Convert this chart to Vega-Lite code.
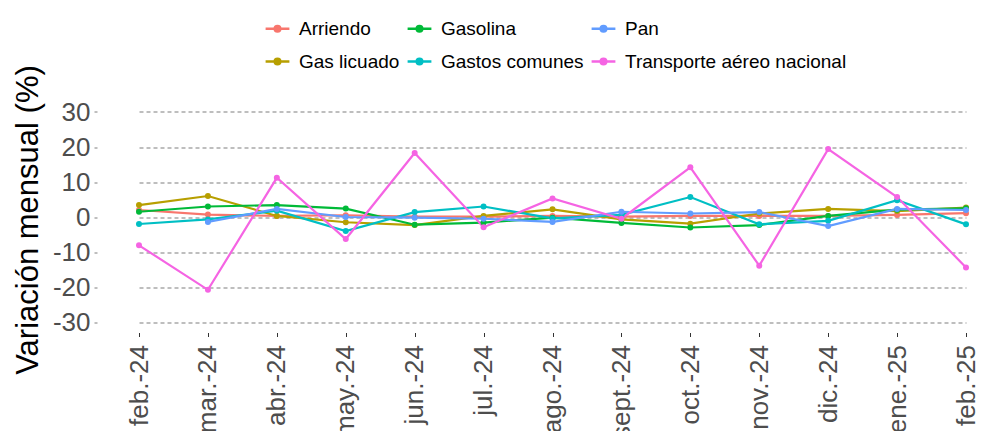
{
  "$schema": "https://vega.github.io/schema/vega-lite/v6.json",
  "autosize": {"type": "none"},
  "padding": {"left": 97, "top": 101.5, "right": 2, "bottom": 98.5},
  "width": 900,
  "height": 231,
  "background": "white",
  "config": {
    "view": {"stroke": null},
    "font": "Liberation Sans"
  },
  "data": {
    "values": [
      {"mes": "feb.-24", "serie": "Arriendo", "valor": 2.0},
      {"mes": "mar.-24", "serie": "Arriendo", "valor": 0.7},
      {"mes": "abr.-24", "serie": "Arriendo", "valor": 0.3},
      {"mes": "may.-24", "serie": "Arriendo", "valor": 0.5},
      {"mes": "jun.-24", "serie": "Arriendo", "valor": 0.1},
      {"mes": "jul.-24", "serie": "Arriendo", "valor": 0.1},
      {"mes": "ago.-24", "serie": "Arriendo", "valor": 0.3},
      {"mes": "sept.-24", "serie": "Arriendo", "valor": 0.1},
      {"mes": "oct.-24", "serie": "Arriendo", "valor": 0.3},
      {"mes": "nov.-24", "serie": "Arriendo", "valor": 0.3},
      {"mes": "dic.-24", "serie": "Arriendo", "valor": 0.3},
      {"mes": "ene.-25", "serie": "Arriendo", "valor": 0.6},
      {"mes": "feb.-25", "serie": "Arriendo", "valor": 1.1},
      {"mes": "feb.-24", "serie": "Gas licuado", "valor": 3.4},
      {"mes": "mar.-24", "serie": "Gas licuado", "valor": 6.0},
      {"mes": "abr.-24", "serie": "Gas licuado", "valor": 0.3},
      {"mes": "may.-24", "serie": "Gas licuado", "valor": -1.5},
      {"mes": "jun.-24", "serie": "Gas licuado", "valor": -2.3},
      {"mes": "jul.-24", "serie": "Gas licuado", "valor": 0.3},
      {"mes": "ago.-24", "serie": "Gas licuado", "valor": 2.2},
      {"mes": "sept.-24", "serie": "Gas licuado", "valor": -0.7},
      {"mes": "oct.-24", "serie": "Gas licuado", "valor": -1.9},
      {"mes": "nov.-24", "serie": "Gas licuado", "valor": 1.0},
      {"mes": "dic.-24", "serie": "Gas licuado", "valor": 2.3},
      {"mes": "ene.-25", "serie": "Gas licuado", "valor": 1.7},
      {"mes": "feb.-25", "serie": "Gas licuado", "valor": 2.7},
      {"mes": "feb.-24", "serie": "Gasolina", "valor": 1.5},
      {"mes": "mar.-24", "serie": "Gasolina", "valor": 3.0},
      {"mes": "abr.-24", "serie": "Gasolina", "valor": 3.4},
      {"mes": "may.-24", "serie": "Gasolina", "valor": 2.4},
      {"mes": "jun.-24", "serie": "Gasolina", "valor": -2.2},
      {"mes": "jul.-24", "serie": "Gasolina", "valor": -1.6},
      {"mes": "ago.-24", "serie": "Gasolina", "valor": -0.2},
      {"mes": "sept.-24", "serie": "Gasolina", "valor": -1.7},
      {"mes": "oct.-24", "serie": "Gasolina", "valor": -3.0},
      {"mes": "nov.-24", "serie": "Gasolina", "valor": -2.3},
      {"mes": "dic.-24", "serie": "Gasolina", "valor": 0.3},
      {"mes": "ene.-25", "serie": "Gasolina", "valor": 2.1},
      {"mes": "feb.-25", "serie": "Gasolina", "valor": 2.5},
      {"mes": "feb.-24", "serie": "Gastos comunes", "valor": -2.0},
      {"mes": "mar.-24", "serie": "Gastos comunes", "valor": -0.7},
      {"mes": "abr.-24", "serie": "Gastos comunes", "valor": 1.8},
      {"mes": "may.-24", "serie": "Gastos comunes", "valor": -4.0},
      {"mes": "jun.-24", "serie": "Gastos comunes", "valor": 1.4},
      {"mes": "jul.-24", "serie": "Gastos comunes", "valor": 3.0},
      {"mes": "ago.-24", "serie": "Gastos comunes", "valor": -0.4},
      {"mes": "sept.-24", "serie": "Gastos comunes", "valor": 0.6},
      {"mes": "oct.-24", "serie": "Gastos comunes", "valor": 5.7},
      {"mes": "nov.-24", "serie": "Gastos comunes", "valor": -2.1},
      {"mes": "dic.-24", "serie": "Gastos comunes", "valor": -1.1},
      {"mes": "ene.-25", "serie": "Gastos comunes", "valor": 4.8},
      {"mes": "feb.-25", "serie": "Gastos comunes", "valor": -2.1},
      {"mes": "mar.-24", "serie": "Pan", "valor": -1.4},
      {"mes": "abr.-24", "serie": "Pan", "valor": 2.3},
      {"mes": "may.-24", "serie": "Pan", "valor": 0.0},
      {"mes": "jun.-24", "serie": "Pan", "valor": -0.2},
      {"mes": "jul.-24", "serie": "Pan", "valor": -0.5},
      {"mes": "ago.-24", "serie": "Pan", "valor": -1.4},
      {"mes": "sept.-24", "serie": "Pan", "valor": 1.5},
      {"mes": "oct.-24", "serie": "Pan", "valor": 1.0},
      {"mes": "nov.-24", "serie": "Pan", "valor": 1.4},
      {"mes": "dic.-24", "serie": "Pan", "valor": -2.6},
      {"mes": "ene.-25", "serie": "Pan", "valor": 2.3},
      {"mes": "feb.-25", "serie": "Pan", "valor": 2.0},
      {"mes": "feb.-24", "serie": "Transporte aéreo nacional", "valor": -8.1},
      {"mes": "mar.-24", "serie": "Transporte aéreo nacional", "valor": -20.8},
      {"mes": "abr.-24", "serie": "Transporte aéreo nacional", "valor": 11.2},
      {"mes": "may.-24", "serie": "Transporte aéreo nacional", "valor": -6.3},
      {"mes": "jun.-24", "serie": "Transporte aéreo nacional", "valor": 18.3},
      {"mes": "jul.-24", "serie": "Transporte aéreo nacional", "valor": -2.9},
      {"mes": "ago.-24", "serie": "Transporte aéreo nacional", "valor": 5.3},
      {"mes": "sept.-24", "serie": "Transporte aéreo nacional", "valor": -0.5},
      {"mes": "oct.-24", "serie": "Transporte aéreo nacional", "valor": 14.2},
      {"mes": "nov.-24", "serie": "Transporte aéreo nacional", "valor": -13.9},
      {"mes": "dic.-24", "serie": "Transporte aéreo nacional", "valor": 19.4},
      {"mes": "ene.-25", "serie": "Transporte aéreo nacional", "valor": 5.7},
      {"mes": "feb.-25", "serie": "Transporte aéreo nacional", "valor": -14.4}
    ]
  },
  "encoding": {
    "x": {
      "field": "mes",
      "type": "ordinal",
      "sort": ["feb.-24", "mar.-24", "abr.-24", "may.-24", "jun.-24", "jul.-24", "ago.-24", "sept.-24", "oct.-24", "nov.-24", "dic.-24", "ene.-25", "feb.-25"],
      "scale": {"type": "point", "range": [42, 869], "padding": 0},
      "axis": {
        "title": null,
        "domain": false,
        "grid": false,
        "ticks": true,
        "tickSize": 4,
        "tickColor": "#333333",
        "labelAngle": -90,
        "labelAlign": "right",
        "labelBaseline": "middle",
        "labelFontSize": 26,
        "labelColor": "#4d4d4d",
        "labelPadding": 8,
        "labelOverlap": false,
        "labelLimit": 300
      }
    },
    "y": {
      "field": "valor",
      "type": "quantitative",
      "scale": {"domain": [-33, 33], "nice": false, "zero": false},
      "axis": {
        "title": "Variación mensual (%)",
        "titleFontSize": 31,
        "titleFontWeight": "normal",
        "titleColor": "#000000",
        "titlePadding": 8,
        "titleY": 118,
        "values": [-30, -20, -10, 0, 10, 20, 30],
        "labelExpr": "'' + datum.value",
        "domain": false,
        "grid": true,
        "gridColor": "#7f7f7f",
        "gridDash": [4, 3],
        "gridWidth": 1.1,
        "tickSize": 5,
        "tickColor": "#7f7f7f",
        "tickDash": [3, 2],
        "labelFontSize": 26,
        "labelColor": "#4d4d4d",
        "labelPadding": 2
      }
    },
    "color": {
      "field": "serie",
      "type": "nominal",
      "scale": {
        "domain": ["Arriendo", "Gasolina", "Pan", "Gas licuado", "Gastos comunes", "Transporte aéreo nacional"],
        "range": ["#F8766D", "#00BA38", "#619CFF", "#B79F00", "#00BFC4", "#F564E3"]
      },
      "legend": {
        "title": null,
        "orient": "none",
        "legendX": 165,
        "legendY": -88.5,
        "direction": "horizontal",
        "columns": 3,
        "columnPadding": 2,
        "rowPadding": 7,
        "labelFontSize": 19,
        "labelColor": "#000000",
        "labelOffset": 6,
        "labelLimit": 400,
        "symbolType": "M-0.85,0H0.85M-0.2,0A0.2,0.2 0 1,1 0.2,0A0.2,0.2 0 1,1 -0.2,0",
        "symbolSize": 784,
        "symbolStrokeWidth": 2.5,
        "padding": 0
      }
    }
  },
  "layer": [
    {"mark": {"type": "line", "strokeWidth": 2.2}},
    {"mark": {"type": "point", "filled": true, "size": 36, "opacity": 1}}
  ]
}
